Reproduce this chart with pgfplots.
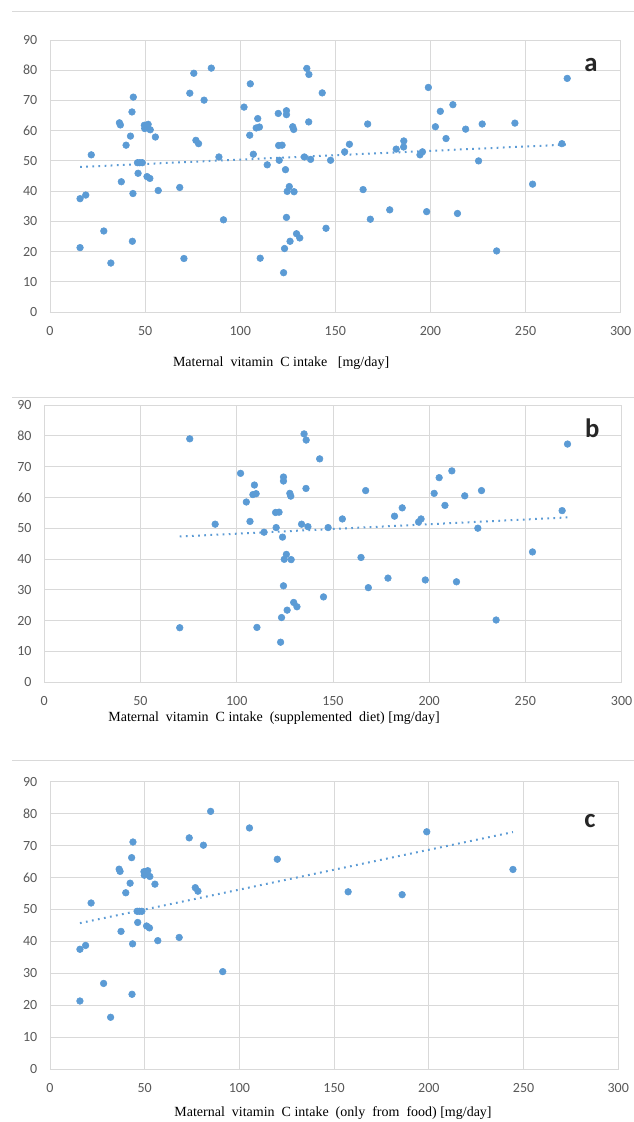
\documentclass[border=0pt]{standalone}
\usepackage{fontspec}
\setmainfont{Liberation Serif}
\newfontfamily\calibri{Carlito}
\usepackage{pgfplots}
\pgfplotsset{compat=1.18}
\usepackage{pgfplotstable}

\definecolor{dotblue}{HTML}{5B9BD5}
\definecolor{gridgray}{HTML}{D9D9D9}
\definecolor{tickgray}{HTML}{595959}

% supplemented diet (panel b)
\pgfplotstableread{
x y
70.4 17.7
75.6 79.0
88.8 51.3
102.0 67.8
105.0 58.5
106.9 52.2
109.2 64.0
108.4 60.9
110.1 61.2
110.5 17.8
114.2 48.7
120.2 55.1
122.0 55.2
120.5 50.2
122.8 13.0
123.3 21.0
123.8 47.1
124.3 31.3
124.3 66.6
124.3 65.3
124.7 39.9
125.8 41.5
126.2 23.4
128.3 39.8
127.6 61.3
128.1 60.4
129.6 25.9
131.3 24.5
133.7 51.3
135.0 80.6
136.1 78.6
136.0 62.9
137.0 50.5
143.1 72.5
145.1 27.7
147.5 50.2
154.9 53.0
164.6 40.5
167.0 62.2
168.4 30.7
178.6 33.8
182.0 53.9
186.0 56.6
194.5 52.0
195.8 53.0
198.0 33.2
202.6 61.3
205.2 66.4
208.2 57.4
211.8 68.6
214.2 32.6
218.5 60.5
225.3 50.0
227.2 62.2
234.8 20.2
253.7 42.3
269.1 55.7
271.9 77.3
}\suppdata

% only from food (panel c)
\pgfplotstableread{
x y
15.8 37.5
18.8 38.7
15.8 21.3
21.7 52.0
28.3 26.8
32.0 16.2
36.5 62.6
37.0 61.9
37.5 43.1
40.0 55.2
42.3 58.2
43.1 66.2
43.8 71.1
43.6 39.2
43.3 23.4
46.3 45.9
46.0 49.4
47.2 49.4
48.5 49.4
49.6 61.8
51.6 62.1
49.8 60.7
52.7 60.3
51.0 44.8
52.5 44.2
55.4 57.9
56.9 40.2
68.2 41.2
73.5 72.4
76.7 56.8
78.1 55.7
81.0 70.1
84.8 80.7
91.2 30.5
105.3 75.5
120.0 65.7
157.4 55.5
185.9 54.6
198.9 74.3
244.4 62.5
}\fooddata

\pgfplotsset{
  panel/.style={
    scale only axis,
    anchor=south west,
    xmin=0, xmax=300, ymin=0, ymax=90,
    xtick={0,50,...,300},
    ytick={0,10,...,90},
    grid=major,
    grid style={gridgray, line width=0.6pt},
    axis line style={draw=gridgray, line width=0.6pt},
    major tick length=0pt,
    tick label style={font=\calibri\fontsize{10.5}{12}\selectfont, text=tickgray},
    /pgf/number format/assume math mode=true,
    xticklabel style={yshift=-7pt},
    yticklabel style={xshift=-6pt},
    label style={font=\fontsize{10.5}{12}\selectfont, text=black},
    clip=false,
  },
  pts/.style={only marks, mark=*, mark size=2.5pt, dotblue, mark options={draw=dotblue, fill=dotblue}},
  trend/.style={dotblue, line width=1.5pt, dash pattern=on 1.3pt off 3.3pt, no marks},
}
\tikzset{letter/.style={font=\calibri\bfseries\fontsize{20}{24}\selectfont, text=black!85}}

\begin{document}
\begin{tikzpicture}
\useasboundingbox[fill=white] (0pt,0pt) rectangle (475.5pt,841.5pt);

% panel frames (top lines)
\draw[gridgray, line width=0.6pt] (9pt,833.25pt) -- (475.5pt,833.25pt);
\draw[gridgray, line width=0.6pt] (9pt,543.75pt) -- (475.5pt,543.75pt);
\draw[gridgray, line width=0.6pt] (9pt,271.5pt) -- (475.5pt,271.5pt);

% a
\begin{axis}[panel, at={(37.5pt,607.5pt)}, width=428pt, height=204pt,
  xlabel={Maternal\ \ vitamin\ \ C intake\ \ \ [mg/day]},
  xlabel style={at={(rel axis cs:0.405,0)}, anchor=center, yshift=-38.5pt}]
\addplot[pts] table[x=x, y=y] {\suppdata};
\addplot[pts] table[x=x, y=y] {\fooddata};
\addplot[trend] coordinates {(15.8,48.0) (271.9,55.4)};
\node[letter] at (rel axis cs:0.948,0.908) {a};
\end{axis}

% b
\begin{axis}[panel, at={(33.2pt,329.8pt)}, width=433pt, height=208pt,
  xlabel={Maternal\ \ vitamin\ \ C intake\ \ (supplemented\ \ diet) [mg/day]},
  xlabel style={at={(rel axis cs:0.398,0)}, anchor=center, yshift=-26.8pt}]
\addplot[pts] table[x=x, y=y] {\suppdata};
\addplot[trend] coordinates {(70.4,47.3) (271.9,53.5)};
\node[letter] at (rel axis cs:0.949,0.917) {b};
\end{axis}

% c
\begin{axis}[panel, at={(37.5pt,39.75pt)}, width=426.2pt, height=215.5pt,
  xlabel={Maternal\ \ vitamin\ \ C intake\ \ (only\ \ from\ \ food) [mg/day]},
  xlabel style={at={(rel axis cs:0.498,0)}, anchor=center, yshift=-33pt}]
\addplot[pts] table[x=x, y=y] {\fooddata};
\addplot[trend] coordinates {(15.8,45.7) (244.4,74.2)};
\node[letter] at (rel axis cs:0.950,0.863) {c};
\end{axis}
\end{tikzpicture}
\end{document}
